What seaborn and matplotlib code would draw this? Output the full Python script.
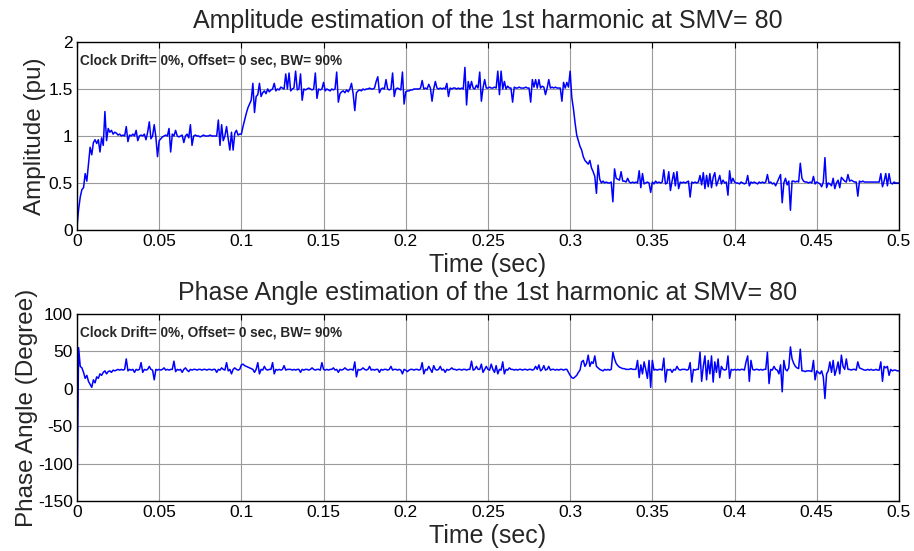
import numpy as np
import pandas as pd
import matplotlib
matplotlib.use("Agg")
import matplotlib.pyplot as plt
import seaborn as sns

# ---------------- data (sampled every 1 ms) ----------------
t_start = 0.0
t_step = 0.001

amplitude = [
    0.03, 0.22, 0.35, 0.43, 0.45, 0.60, 0.52, 0.70, 0.88, 0.80,
    0.93, 0.96, 0.92, 0.96, 0.83, 0.98, 0.90, 1.26, 0.95, 1.08,
    1.04, 1.06, 1.02, 1.04, 1.03, 1.01, 1.02, 1.00, 1.01, 1.00,
    1.10, 0.94, 1.01, 1.00, 1.02, 1.00, 1.06, 0.95, 1.00, 1.01,
    1.00, 1.02, 0.96, 1.04, 1.15, 0.97, 1.00, 1.12, 0.99, 0.78,
    0.95, 0.97, 0.99, 1.00, 1.01, 1.00, 1.08, 0.83, 1.02, 1.00,
    1.06, 1.00, 0.99, 1.00, 1.01, 0.93, 1.00, 1.02, 0.98, 1.12,
    0.90, 1.00, 1.01, 1.00, 1.00, 0.99, 1.00, 1.01, 1.00, 1.00,
    1.00, 1.01, 1.00, 1.00, 1.00, 1.00, 1.17, 0.90, 1.12, 0.95,
    1.00, 1.10, 0.97, 0.85, 1.04, 0.85, 1.03, 1.06, 1.01, 1.02,
    1.02, 1.10, 1.17, 1.24, 1.30, 1.34, 1.38, 1.56, 1.25, 1.42,
    1.44, 1.56, 1.42, 1.46, 1.48, 1.45, 1.50, 1.47, 1.49, 1.50,
    1.56, 1.48, 1.50, 1.49, 1.52, 1.51, 1.50, 1.66, 1.50, 1.67,
    1.48, 1.50, 1.51, 1.69, 1.49, 1.50, 1.66, 1.38, 1.50, 1.49,
    1.50, 1.51, 1.50, 1.49, 1.50, 1.67, 1.40, 1.50, 1.49, 1.50,
    1.57, 1.48, 1.50, 1.49, 1.48, 1.50, 1.49, 1.50, 1.68, 1.36,
    1.45, 1.47, 1.48, 1.46, 1.49, 1.47, 1.50, 1.56, 1.45, 1.27,
    1.46, 1.48, 1.49, 1.48, 1.50, 1.49, 1.50, 1.50, 1.51, 1.50,
    1.50, 1.51, 1.58, 1.63, 1.46, 1.50, 1.51, 1.50, 1.60, 1.50,
    1.49, 1.50, 1.67, 1.42, 1.50, 1.51, 1.50, 1.49, 1.68, 1.34,
    1.47, 1.48, 1.48, 1.49, 1.49, 1.50, 1.50, 1.50, 1.50, 1.51,
    1.59, 1.50, 1.51, 1.50, 1.55, 1.51, 1.37, 1.50, 1.58, 1.51,
    1.50, 1.51, 1.50, 1.51, 1.50, 1.56, 1.42, 1.51, 1.50, 1.51,
    1.51, 1.50, 1.51, 1.50, 1.51, 1.50, 1.73, 1.33, 1.58, 1.50,
    1.58, 1.51, 1.50, 1.54, 1.51, 1.68, 1.37, 1.51, 1.60, 1.51,
    1.51, 1.52, 1.51, 1.51, 1.52, 1.51, 1.69, 1.44, 1.69, 1.50,
    1.58, 1.50, 1.53, 1.51, 1.51, 1.36, 1.52, 1.51, 1.51, 1.52,
    1.51, 1.51, 1.51, 1.52, 1.51, 1.51, 1.36, 1.60, 1.52, 1.60,
    1.51, 1.60, 1.51, 1.53, 1.52, 1.44, 1.51, 1.60, 1.51, 1.52,
    1.51, 1.52, 1.51, 1.51, 1.51, 1.37, 1.57, 1.51, 1.57, 1.52,
    1.69, 1.41, 1.29, 1.14, 1.01, 0.95, 0.89, 0.85, 0.78, 0.74,
    0.72, 0.70, 0.74, 0.66, 0.62, 0.57, 0.39, 0.69, 0.54, 0.50,
    0.52, 0.50, 0.51, 0.50, 0.50, 0.51, 0.30, 0.65, 0.55, 0.54,
    0.53, 0.62, 0.52, 0.52, 0.51, 0.55, 0.51, 0.50, 0.51, 0.50,
    0.51, 0.50, 0.63, 0.45, 0.60, 0.49, 0.50, 0.51, 0.50, 0.40,
    0.51, 0.49, 0.52, 0.50, 0.51, 0.50, 0.51, 0.64, 0.49, 0.50,
    0.62, 0.42, 0.52, 0.61, 0.47, 0.62, 0.44, 0.51, 0.50, 0.51,
    0.50, 0.51, 0.52, 0.35, 0.51, 0.50, 0.51, 0.50, 0.51, 0.58,
    0.48, 0.61, 0.44, 0.58, 0.46, 0.60, 0.45, 0.56, 0.61, 0.47,
    0.52, 0.58, 0.49, 0.53, 0.50, 0.51, 0.37, 0.63, 0.50, 0.55,
    0.51, 0.50, 0.50, 0.49, 0.51, 0.50, 0.49, 0.50, 0.58, 0.47,
    0.51, 0.50, 0.51, 0.50, 0.49, 0.51, 0.50, 0.51, 0.50, 0.51,
    0.59, 0.50, 0.51, 0.49, 0.50, 0.47, 0.51, 0.55, 0.59, 0.29,
    0.50, 0.55, 0.48, 0.52, 0.21, 0.52, 0.52, 0.51, 0.52, 0.51,
    0.71, 0.55, 0.52, 0.51, 0.51, 0.50, 0.51, 0.50, 0.57, 0.49,
    0.51, 0.50, 0.49, 0.46, 0.51, 0.77, 0.45, 0.50, 0.49, 0.47,
    0.55, 0.44, 0.50, 0.53, 0.45, 0.56, 0.54, 0.52, 0.51, 0.59,
    0.52, 0.53, 0.52, 0.51, 0.51, 0.36, 0.52, 0.51, 0.52, 0.51,
    0.51, 0.51, 0.51, 0.51, 0.51, 0.51, 0.51, 0.51, 0.51, 0.60,
    0.46, 0.52, 0.60, 0.47, 0.60, 0.50, 0.49, 0.51, 0.50, 0.50,
    0.50,
]

phase = [
    -160, 55, 30, 28, 22, 14, 18, 10, 6, 2,
    12, 8, 16, 14, 20, 18, 22, 24, 20, 23,
    24, 22, 25, 24, 25, 26, 25, 26, 25, 26,
    40, 24, 26, 25, 26, 22, 26, 25, 26, 35,
    22, 26, 25, 26, 30, 26, 25, 12, 26, 25,
    26, 25, 26, 28, 25, 26, 25, 26, 26, 37,
    23, 26, 25, 26, 22, 26, 28, 25, 23, 26,
    25, 26, 26, 25, 26, 26, 25, 26, 26, 25,
    26, 26, 25, 26, 26, 22, 26, 25, 28, 26,
    25, 35, 24, 26, 20, 26, 28, 26, 25, 26,
    32, 33, 31, 30, 29, 28, 27, 26, 22, 26,
    35, 20, 26, 25, 30, 26, 25, 26, 26, 35,
    20, 26, 25, 26, 25, 26, 31, 25, 26, 26,
    26, 25, 26, 25, 26, 26, 22, 26, 25, 26,
    26, 25, 26, 28, 26, 25, 26, 26, 25, 35,
    26, 25, 26, 25, 26, 26, 28, 25, 26, 22,
    26, 25, 26, 28, 26, 25, 26, 26, 25, 36,
    16, 26, 25, 26, 28, 26, 25, 26, 30, 25,
    26, 25, 26, 26, 22, 26, 25, 26, 26, 25,
    26, 30, 25, 26, 26, 25, 26, 25, 20, 26,
    25, 23, 25, 26, 26, 25, 26, 26, 25, 26,
    35, 20, 26, 25, 30, 26, 22, 31, 26, 25,
    26, 30, 25, 26, 22, 26, 25, 26, 28, 26,
    26, 25, 26, 26, 25, 26, 26, 25, 26, 26,
    37, 25, 26, 30, 26, 26, 33, 22, 26, 30,
    26, 25, 33, 26, 22, 31, 20, 26, 25, 36,
    20, 26, 25, 28, 26, 26, 25, 26, 25, 26,
    26, 25, 26, 26, 25, 26, 26, 25, 26, 30,
    26, 32, 24, 26, 31, 25, 26, 30, 25, 26,
    26, 25, 26, 25, 26, 26, 25, 26, 26, 22,
    18, 15, 14, 16, 18, 22, 25, 36, 38, 30,
    34, 45, 30, 36, 34, 44, 30, 28, 26, 25,
    24, 26, 25, 26, 25, 26, 49, 40, 34, 31,
    29, 28, 27, 27, 26, 26, 26, 27, 26, 26,
    26, 38, 15, 32, 20, 36, 26, 14, 38, 2,
    38, 25, 26, 25, 26, 26, 25, 41, 9, 26,
    25, 26, 22, 26, 25, 30, 26, 25, 26, 26,
    26, 25, 26, 35, 9, 26, 25, 26, 26, 49,
    10, 30, 44, 12, 38, 20, 44, 9, 36, 22,
    40, 15, 30, 26, 25, 26, 44, 14, 26, 25,
    26, 25, 26, 25, 26, 26, 25, 36, 44, 10,
    38, 26, 25, 26, 26, 25, 26, 25, 26, 26,
    49, 7, 26, 25, 30, 26, 25, 20, 32, -4,
    38, 26, 24, 28, 56, 40, 34, 30, 28, 27,
    53, 24, 24, 23, 24, 24, 24, 23, 38, 12,
    24, 22, 20, 24, 16, -13, 20, 24, 36, 22,
    38, 18, 26, 36, 20, 45, 30, 26, 40, 26,
    26, 25, 26, 26, 25, 36, 28, 27, 26, 25,
    25, 26, 25, 26, 25, 25, 26, 25, 25, 36,
    10, 30, 28, 30, 18, 26, 24, 25, 25, 24,
    24,
]

x_ticks = [0, 0.05, 0.1, 0.15, 0.2, 0.25, 0.3, 0.35, 0.4, 0.45, 0.5]
x_tick_labels = ["0", "0.05", "0.1", "0.15", "0.2", "0.25", "0.3", "0.35", "0.4", "0.45", "0.5"]
amp_ticks = [0, 0.5, 1, 1.5, 2]
amp_tick_labels = ["0", "0.5", "1", "1.5", "2"]
phase_ticks = [-150, -100, -50, 0, 50, 100]
phase_tick_labels = ["-150", "-100", "-50", "0", "50", "100"]

title_amp = "Amplitude estimation of the 1st harmonic at SMV= 80"
title_phase = "Phase Angle estimation of the 1st harmonic at SMV= 80"
annotation = "Clock Drift= 0%, Offset= 0 sec, BW= 90%"

# ---------------- build frame ----------------
n = len(amplitude)
time = [round(t_start + i * t_step, 4) for i in range(n)]
df = pd.DataFrame({"Time": time, "Amplitude": amplitude, "Phase": phase})

sns.set_theme(style="white")
plt.rcParams["font.family"] = ["Liberation Sans", "DejaVu Sans"]

fig = plt.figure(figsize=(9.14, 5.51), dpi=100)
ax1 = fig.add_axes([0.0842, 0.5826, 0.8993, 0.3412])
ax2 = fig.add_axes([0.0842, 0.0907, 0.8993, 0.3394])

def style(ax, yticks, ylabels, ylim):
    ax.set_xlim(0, 0.5)
    ax.set_ylim(*ylim)
    ax.set_xticks(x_ticks)
    ax.set_xticklabels(x_tick_labels)
    ax.set_yticks(yticks)
    ax.set_yticklabels(ylabels)
    ax.grid(True, color="#9a9a9a", linewidth=0.8, linestyle="-")
    ax.set_axisbelow(True)
    for s in ax.spines.values():
        s.set_visible(True)
        s.set_color("black")
        s.set_linewidth(1.0)
    ax.tick_params(direction="in", length=4, width=0.8, top=True, right=True,
                   labelsize=12.5, pad=3, colors="black")
    for lab in ax.get_xticklabels() + ax.get_yticklabels():
        lab.set_color("black")

sns.lineplot(data=df, x="Time", y="Amplitude", ax=ax1, color="blue", linewidth=1.1,
             estimator=None)
style(ax1, amp_ticks, amp_tick_labels, (0, 2))
ax1.set_title(title_amp, fontsize=18, pad=10)
ax1.set_xlabel("Time (sec)", fontsize=18, labelpad=3)
ax1.set_ylabel("Amplitude (pu)", fontsize=17.5, labelpad=2)
ax1.text(0.004, 0.9, annotation, transform=ax1.transAxes, fontsize=9.8,
         fontweight="bold", va="center", ha="left")

sns.lineplot(data=df, x="Time", y="Phase", ax=ax2, color="blue", linewidth=1.1,
             estimator=None)
style(ax2, phase_ticks, phase_tick_labels, (-150, 100))
ax2.set_title(title_phase, fontsize=18, pad=10)
ax2.set_xlabel("Time (sec)", fontsize=18, labelpad=3)
ax2.set_ylabel("Phase Angle (Degree)", fontsize=17.5, labelpad=0)
ax2.text(0.004, 0.9, annotation, transform=ax2.transAxes, fontsize=9.8,
         fontweight="bold", va="center", ha="left")

fig.savefig("out.png", dpi=100)
